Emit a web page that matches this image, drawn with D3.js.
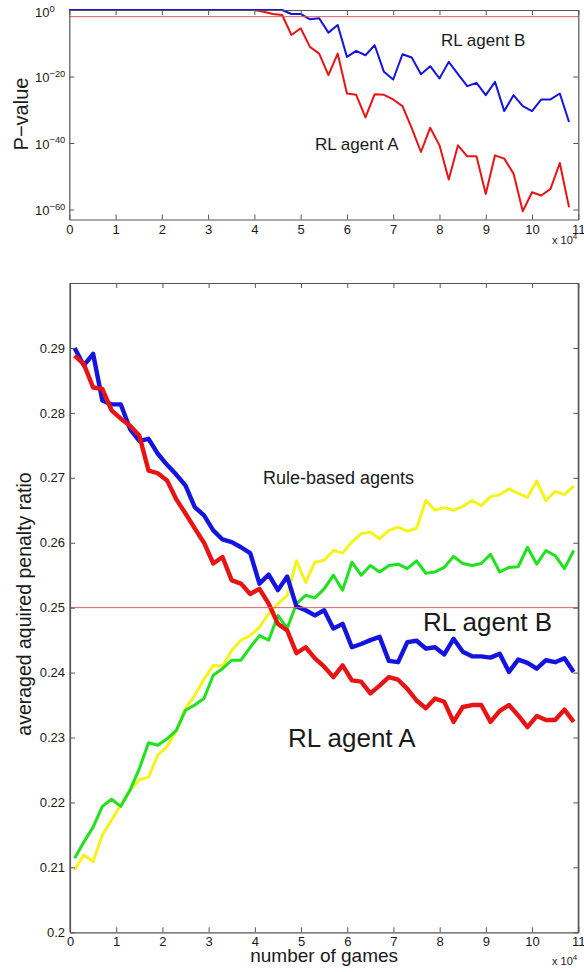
<!DOCTYPE html>
<html><head><meta charset="utf-8">
<script src="https://cdn.jsdelivr.net/npm/d3@7"></script>
<style>
html,body{margin:0;padding:0;background:#fff;}
svg{display:block;font-family:"Liberation Sans",Arial,Helvetica,sans-serif;}
</style>
</head><body>
<svg id="c" width="584" height="972"></svg>
<script>
// ---------- data (x in units of 10^4 games) ----------
const gamesTop = [0,0.2,0.4,0.6,0.8,1,1.2,1.4,1.6,1.8,2,2.2,2.4,2.6,2.8,3,3.2,3.4,3.6,3.8,4,4.2,4.4,4.6,4.8,5,5.2,5.4,5.6,5.8,6,6.2,6.4,6.6,6.8,7,7.2,7.4,7.6,7.8,8,8.2,8.4,8.6,8.8,9,9.2,9.4,9.6,9.8,10,10.2,10.4,10.6,10.8];
const gamesBottom = [0.1,0.3,0.5,0.7,0.9,1.1,1.3,1.5,1.7,1.9,2.1,2.3,2.5,2.7,2.9,3.1,3.3,3.5,3.7,3.9,4.1,4.3,4.5,4.7,4.9,5.1,5.3,5.5,5.7,5.9,6.1,6.3,6.5,6.7,6.9,7.1,7.3,7.5,7.7,7.9,8.1,8.3,8.5,8.7,8.9,9.1,9.3,9.5,9.7,9.9,10.1,10.3,10.5,10.7,10.9];

// log10 of P-value
const pExpAgentA = [0,0,0,0,0,0,0,0,0,0,0,0,0,0,0,0,0,0,0,0,0,
  -0.5,-1.2,-1.5,-7.5,-5.5,-11.1,-13.1,-19.6,-13.1,-25.1,-25.5,-32.3,-25.3,-25.5,-26.9,-28.9,-35.5,-42.7,-35.4,
  -40.7,-51.0,-40.7,-44.0,-44.0,-55.3,-43.7,-44.7,-49.2,-60.5,-54.8,-55.8,-53.8,-46.0,-59.3];
const pExpAgentB = [0,0,0,0,0,0,0,0,0,0,0,0,0,0,0,0,0,0,0,0,0,0,0,0,
  -1.2,-1.2,-2.8,-2.5,-6.8,-4.5,-14.1,-12.3,-13.6,-10.6,-18.6,-20.9,-13.3,-14.3,-19.3,-16.9,
  -20.6,-15.6,-19.3,-22.9,-21.9,-25.6,-21.6,-30.4,-25.6,-28.9,-30.4,-26.9,-26.9,-25.1,-33.7];

const ratioAgentB = [0.2900,0.2873,0.2891,0.2819,0.2813,0.2813,0.2775,0.2757,0.2760,0.2737,
  0.2720,0.2705,0.2688,0.2655,0.2642,0.2619,0.2605,0.2601,0.2593,0.2584,
  0.2537,0.2551,0.2527,0.2548,0.2502,0.2496,0.2488,0.2496,0.2468,0.2475,
  0.2439,0.2444,0.2450,0.2455,0.2418,0.2416,0.2447,0.2449,0.2437,0.2439,
  0.2428,0.2452,0.2432,0.2425,0.2425,0.2423,0.2429,0.2401,0.2420,0.2415,
  0.2406,0.2419,0.2416,0.2422,0.2401];
const ratioAgentA = [0.2888,0.2875,0.2839,0.2837,0.2804,0.2791,0.2780,0.2765,0.2711,0.2707,
  0.2696,0.2667,0.2645,0.2622,0.2600,0.2568,0.2578,0.2542,0.2537,0.2521,
  0.2529,0.2506,0.2475,0.2465,0.2430,0.2439,0.2422,0.2409,0.2393,0.2411,
  0.2388,0.2386,0.2368,0.2380,0.2393,0.2389,0.2375,0.2357,0.2345,0.2360,
  0.2355,0.2324,0.2347,0.2350,0.2350,0.2324,0.2341,0.2350,0.2334,0.2316,
  0.2333,0.2327,0.2327,0.2343,0.2324];
const ratioRuleYellow = [0.2096,0.2119,0.2109,0.2150,0.2173,0.2196,0.2219,0.2235,0.2239,0.2273,
  0.2286,0.2310,0.2345,0.2365,0.2390,0.2411,0.2410,0.2434,0.2450,0.2457,
  0.2470,0.2491,0.2506,0.2519,0.2572,0.2539,0.2570,0.2573,0.2588,0.2584,
  0.2601,0.2614,0.2616,0.2606,0.2619,0.2624,0.2618,0.2622,0.2665,0.2650,
  0.2654,0.2650,0.2656,0.2665,0.2657,0.2671,0.2674,0.2683,0.2676,0.2670,
  0.2695,0.2665,0.2679,0.2674,0.2687];
const ratioRuleGreen = [0.2114,0.2139,0.2162,0.2194,0.2205,0.2194,0.2219,0.2252,0.2292,0.2288,
  0.2298,0.2311,0.2342,0.2350,0.2360,0.2396,0.2406,0.2419,0.2419,0.2439,
  0.2457,0.2450,0.2488,0.2468,0.2506,0.2519,0.2515,0.2529,0.2550,0.2527,
  0.2570,0.2550,0.2565,0.2555,0.2565,0.2567,0.2560,0.2572,0.2553,0.2555,
  0.2562,0.2579,0.2568,0.2565,0.2568,0.2582,0.2555,0.2562,0.2563,0.2593,
  0.2567,0.2588,0.2580,0.2560,0.2588];

const xTicks = [0,1,2,3,4,5,6,7,8,9,10,11];
const topYTickExps = [0,-20,-40,-60];
const bottomYTicks = [0.2,0.21,0.22,0.23,0.24,0.25,0.26,0.27,0.28,0.29];
const chanceLevel = 0.25;
const significanceLevel = 0.01;

// ---------- drawing ----------
const svg = d3.select("#c");
const AX = "#555", TXT = "#1a1a1a";
const C_BLUE = "#1414e0", C_RED = "#e81414", C_YEL = "#f4f41c", C_GRN = "#1ee21e", C_REF = "#e65a5a";

function styleAxis(g){
  g.selectAll(".domain").attr("stroke", AX).attr("stroke-width", 1.2);
  g.selectAll(".tick line").attr("stroke", AX).attr("stroke-width", 1);
  g.selectAll(".tick text").attr("fill", TXT).attr("font-size", 13)
    .attr("font-family", '"Liberation Sans",Arial,sans-serif');
}
function multText(g, x, y, base, sup, fs){
  const t = g.append("text").attr("x", x).attr("y", y).attr("fill", TXT).attr("font-size", fs);
  t.append("tspan").text(base);
  t.append("tspan").attr("font-size", fs*0.72).attr("dy", -fs*0.42).text(sup);
  return t;
}

// ===== Top chart =====
const T = {l:69.3, r:578.3, t:10, b:219.5};
const xT = d3.scaleLinear().domain([0,11]).range([T.l, T.r]);
const yT = d3.scaleLog().domain([1e-63, 1]).range([T.b, T.t]);
const topG = svg.append("g");

const lineT = d3.line().x((d,i)=>xT(gamesTop[i])).y(d=>yT(Math.pow(10,d)));
topG.append("path").datum(pExpAgentA).attr("d", lineT)
  .attr("fill","none").attr("stroke",C_RED).attr("stroke-width",2).attr("stroke-linejoin","round");
topG.append("path").datum(pExpAgentB).attr("d", lineT)
  .attr("fill","none").attr("stroke",C_BLUE).attr("stroke-width",2).attr("stroke-linejoin","round");
topG.append("line").attr("x1",T.l).attr("x2",T.r)
  .attr("y1",yT(significanceLevel)).attr("y2",yT(significanceLevel))
  .attr("stroke",C_REF).attr("stroke-width",1);

topG.append("g").attr("transform",`translate(0,${T.b})`)
  .call(d3.axisBottom(xT).tickValues(xTicks).tickSize(-5).tickSizeOuter(0).tickPadding(5).tickFormat(d3.format("d")))
  .call(styleAxis);
topG.append("g").attr("transform",`translate(0,${T.t})`)
  .call(d3.axisTop(xT).tickValues(xTicks).tickSize(-5).tickSizeOuter(0).tickFormat(""))
  .call(styleAxis);
const topYVals = topYTickExps.map(e=>Math.pow(10,e));
topG.append("g").attr("transform",`translate(${T.l},0)`)
  .call(d3.axisLeft(yT).tickValues(topYVals).tickSize(-5).tickSizeOuter(0).tickFormat(""))
  .call(styleAxis);
topG.append("g").attr("transform",`translate(${T.r},0)`)
  .call(d3.axisRight(yT).tickValues(topYVals).tickSize(-5).tickSizeOuter(0).tickFormat(""))
  .call(styleAxis);
topYTickExps.forEach(e=>{
  const yy = yT(Math.pow(10,e)) + (e===0 ? 7 : 5.5);
  multText(topG, 35, yy, "10", e===0 ? "0" : "\u2212" + (-e), 13);
});
multText(topG, 552, 244, "x 10", "4", 11);
topG.append("text").attr("transform","translate(28,114) rotate(-90)")
  .attr("text-anchor","middle").attr("font-size",20).attr("fill",TXT).text("P\u2212value");
topG.append("text").attr("x",441).attr("y",46).attr("font-size",17).attr("fill",TXT).text("RL agent B");
topG.append("text").attr("x",315).attr("y",149.5).attr("font-size",17).attr("fill",TXT).text("RL agent A");

// ===== Bottom chart =====
const B = {l:70, r:578.3, t:283, b:932.3};
const xB = d3.scaleLinear().domain([0,11]).range([B.l, B.r]);
const yB = d3.scaleLinear().domain([0.2,0.3]).range([B.b, B.t]);
const botG = svg.append("g");
const lineB = d3.line().x((d,i)=>xB(gamesBottom[i])).y(d=>yB(d));
[[ratioRuleYellow,C_YEL,3],[ratioRuleGreen,C_GRN,3],[ratioAgentB,C_BLUE,4.4],[ratioAgentA,C_RED,4.4]]
  .forEach(([arr,c,w])=>{
    botG.append("path").datum(arr).attr("d",lineB).attr("fill","none")
      .attr("stroke",c).attr("stroke-width",w).attr("stroke-linejoin","round");
  });
botG.append("line").attr("x1",B.l).attr("x2",B.r)
  .attr("y1",yB(chanceLevel)).attr("y2",yB(chanceLevel))
  .attr("stroke",C_REF).attr("stroke-width",1);

botG.append("g").attr("transform",`translate(0,${B.b})`)
  .call(d3.axisBottom(xB).tickValues(xTicks).tickSize(-5).tickSizeOuter(0).tickPadding(4).tickFormat(d3.format("d")))
  .call(styleAxis);
botG.append("g").attr("transform",`translate(0,${B.t})`)
  .call(d3.axisTop(xB).tickValues(xTicks).tickSize(-5).tickSizeOuter(0).tickFormat(""))
  .call(styleAxis);
botG.append("g").attr("transform",`translate(${B.l},0)`)
  .call(d3.axisLeft(yB).tickValues(bottomYTicks).tickSize(-5).tickSizeOuter(0).tickPadding(5)
    .tickFormat(d=>String(+d.toFixed(2))))
  .call(styleAxis);
botG.append("g").attr("transform",`translate(${B.r},0)`)
  .call(d3.axisRight(yB).tickValues(bottomYTicks).tickSize(-5).tickSizeOuter(0).tickFormat(""))
  .call(styleAxis);
botG.append("line").attr("x1",B.l).attr("x2",B.l).attr("y1",B.t).attr("y2",B.b).attr("stroke",AX).attr("stroke-width",1.2);
botG.append("line").attr("x1",B.r).attr("x2",B.r).attr("y1",B.t).attr("y2",B.b).attr("stroke",AX).attr("stroke-width",1.2);

multText(botG, 552, 965, "x 10", "4", 11);
botG.append("text").attr("x",(B.l+B.r)/2).attr("y",962).attr("text-anchor","middle")
  .attr("font-size",19).attr("fill",TXT).text("number of games");
botG.append("text").attr("transform","translate(31,604) rotate(-90)")
  .attr("text-anchor","middle").attr("font-size",19.5).attr("fill",TXT).text("averaged aquired penalty ratio");
botG.append("text").attr("x",263).attr("y",484).attr("font-size",18).attr("fill",TXT).text("Rule-based agents");
botG.append("text").attr("x",423).attr("y",631).attr("font-size",26).attr("fill",TXT).text("RL agent B");
botG.append("text").attr("x",288).attr("y",747).attr("font-size",26).attr("fill",TXT).text("RL agent A");
</script>
</body></html>
